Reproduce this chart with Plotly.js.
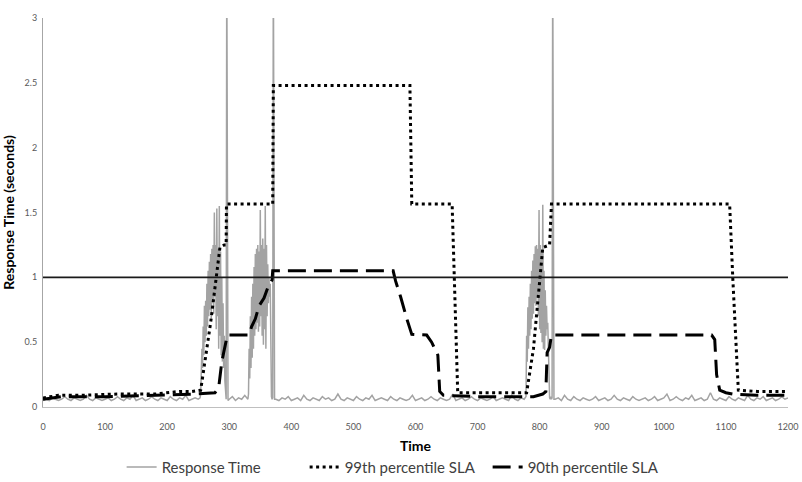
<!DOCTYPE html>
<html>
<head>
<meta charset="utf-8">
<script src="https://cdn.plot.ly/plotly-3.0.1.min.js"></script>
<style>html,body{margin:0;padding:0;background:#fff;}#chart{width:802px;height:482px;}</style>
</head>
<body>
<div id="chart"></div>
<script>
// ---- Response Time samples (seconds), per segment: start time, sampling step, values ----
const rtSegA = {start: 0, step: 5, values: [
0.05,0.06,0.05,0.07,0.06,0.05,0.06,0.08,0.06,0.05,
0.07,0.06,0.05,0.06,0.09,0.06,0.05,0.07,0.06,0.05,
0.06,0.07,0.05,0.06,0.08,0.06,0.05,0.07,0.06,0.09,
0.05,0.06,0.07,0.05,0.06,0.08,0.06,0.05,0.07,0.06,
0.05,0.08,0.06,0.05,0.07,0.06,0.09,0.05,0.06,0.07,
0.06]};
const rtBurst1 = {start: 253, step: 1, values: [
0.07,0.10,0.30,0.45,0.30,0.62,0.40,0.78,0.50,0.82,
0.55,0.95,0.62,1.05,0.70,1.12,0.75,1.18,0.68,1.22,
0.80,1.25,0.72,1.50,0.85,1.25,0.60,1.53,0.70,1.22,
0.45,1.55,0.55,1.20,0.40,1.00,0.35,0.80,0.30,0.55,
0.20,0.08,0.06,3.5,0.07,0.05]};
const rtSegB = {start: 300, step: 5, values: [0.06,0.08,0.05,0.07,0.06,0.09,0.06]};
const rtBurst2 = {start: 331, step: 1, values: [
0.10,0.45,0.22,0.70,0.30,0.85,0.38,0.95,0.45,1.08,
0.55,1.18,0.60,1.22,0.65,1.25,0.58,1.20,0.62,1.52,
0.70,1.25,0.55,1.30,0.48,1.22,0.60,1.55,0.45,1.25,
0.70,1.10,0.80,1.00,0.85,0.95,0.30,0.08,0.06,0.07,
3.5,0.07,0.06]};
const rtSegC = {start: 375, step: 5, values: [
0.06,0.05,0.07,0.06,0.08,0.05,0.06,0.07,0.05,0.09,
0.06,0.05,0.07,0.06,0.05,0.08,0.06,0.07,0.05,0.06,
0.10,0.06,0.05,0.07,0.06,0.05,0.08,0.06,0.05,0.07,
0.06,0.09,0.05,0.06,0.07,0.06,0.05,0.08,0.06,0.05,
0.07,0.06,0.05,0.06,0.09,0.05,0.06,0.07,0.05,0.06,
0.08,0.06,0.05,0.07,0.06,0.05,0.06,0.10,0.05,0.06,
0.07,0.05,0.06,0.08,0.06,0.05,0.07,0.06,0.05,0.06,
0.08,0.05,0.06,0.07,0.06,0.05,0.09,0.06,0.05,0.07,
0.06]};
const rtBurst3 = {start: 778, step: 1, values: [
0.08,0.55,0.35,0.77,0.45,0.85,0.55,0.95,0.60,1.05,
0.68,1.13,0.72,1.18,0.80,1.24,0.78,1.25,0.85,1.22,
0.70,1.52,0.60,1.25,0.57,1.20,0.50,1.56,0.45,1.05,
0.44,0.90,0.55,0.78,0.60,0.65,0.45,0.20,0.07,0.06,
0.08,0.06,0.07,3.5,0.07,0.06]};
const rtSegD = {start: 825, step: 5, values: [
0.06,0.07,0.05,0.09,0.06,0.05,0.08,0.06,0.05,0.07,
0.06,0.05,0.06,0.08,0.05,0.06,0.07,0.05,0.06,0.09,
0.06,0.05,0.07,0.06,0.05,0.08,0.06,0.05,0.06,0.07,
0.05,0.06,0.08,0.05,0.06,0.07,0.10,0.05,0.06,0.08,
0.06,0.05,0.07,0.06,0.09,0.05,0.06,0.07,0.05,0.06,
0.11,0.06,0.05,0.07,0.06,0.05,0.08,0.06,0.05,0.07,
0.06,0.05,0.09,0.06,0.05,0.07,0.06,0.08,0.05,0.06,
0.07,0.05,0.06,0.08,0.06,0.07]};

// ---- 99th percentile SLA ----
const sla99Time = [0, 25, 60, 120, 180, 220, 240, 254, 270, 285, 292, 295, 295.5, 370, 371, 591, 594, 659, 668, 700, 779, 790, 805, 816, 819, 1106, 1111, 1120, 1150, 1200];
const sla99Val  = [0.07, 0.09, 0.09, 0.10, 0.10, 0.12, 0.12, 0.13, 0.65, 1.23, 1.25, 1.25, 1.565, 1.565, 2.48, 2.48, 1.565, 1.565, 0.11, 0.11, 0.11, 0.45, 1.23, 1.25, 1.565, 1.565, 1.0, 0.13, 0.12, 0.12];

// ---- 90th percentile SLA ----
const sla90Time = [0, 30, 100, 200, 245, 277, 283, 288, 292, 296, 297, 332, 336, 342, 348, 356, 362, 366, 369, 370, 564, 568, 576, 586, 594, 618, 626, 636, 639, 645, 700, 790, 805, 810, 811, 812, 816, 819, 1077, 1082, 1085, 1090, 1100, 1111, 1150, 1200];
const sla90Val  = [0.06, 0.08, 0.08, 0.09, 0.10, 0.11, 0.15, 0.35, 0.45, 0.52, 0.555, 0.555, 0.62, 0.68, 0.78, 0.84, 0.92, 0.95, 0.98, 1.05, 1.05, 0.97, 0.85, 0.68, 0.56, 0.555, 0.50, 0.40, 0.12, 0.09, 0.08, 0.08, 0.10, 0.12, 0.30, 0.42, 0.46, 0.555, 0.555, 0.52, 0.25, 0.13, 0.11, 0.10, 0.09, 0.09];

// ---- SLA threshold ----
const slaThreshold = 1;

// ---- axes ----
const xTickVals = [0,100,200,300,400,500,600,700,800,900,1000,1100,1200];
const yTickVals = [0,0.5,1,1.5,2,2.5,3];
const yTickText = ['0','0.5','1','1.5','2','2.5','3'];

const rtSegments = [rtSegA, rtBurst1, rtSegB, rtBurst2, rtSegC, rtBurst3, rtSegD];
const rtTime = [], rtVal = [];
rtSegments.forEach(s => s.values.forEach((v, i) => { rtTime.push(s.start + i * s.step); rtVal.push(v); }));

const FONT = 'Lato, "Open Sans", sans-serif';

const traces = [
  {x: rtTime, y: rtVal, type: 'scatter', mode: 'lines', name: 'Response Time',
   line: {color: '#a3a3a3', width: 1.5}},
  {x: sla99Time, y: sla99Val, type: 'scatter', mode: 'lines', name: '99th percentile SLA',
   line: {color: '#000000', width: 3, dash: '3px,3.5px'}},
  {x: sla90Time, y: sla90Val, type: 'scatter', mode: 'lines', name: '90th percentile SLA',
   line: {color: '#000000', width: 3, dash: '18px,8px'}}
];

const layout = {
  width: 802, height: 482,
  margin: {l: 43, r: 14, t: 18, b: 75, autoexpand: false},
  paper_bgcolor: '#ffffff', plot_bgcolor: '#ffffff',
  font: {family: FONT, color: '#595959'},
  showlegend: true,
  legend: {orientation: 'h', x: 0.474, xanchor: 'center', y: -0.155, yanchor: 'middle',
           entrywidth: 138, entrywidthmode: 'pixels',
           font: {family: FONT, size: 15, color: '#404040'}, traceorder: 'normal'},
  xaxis: {range: [0, 1200], tickvals: xTickVals, ticktext: xTickVals.map(String),
          showgrid: false, zeroline: false, showline: true, linecolor: '#bfbfbf', linewidth: 1,
          ticks: '', ticklabelstandoff: 11, tickfont: {size: 9, color: '#595959'},
          title: {text: '<b>Time</b>', font: {size: 14, color: '#000'}, standoff: 10}, automargin: false},
  yaxis: {range: [0, 3], tickvals: yTickVals, ticktext: yTickText,
          showgrid: false, zeroline: false, showline: true, linecolor: '#a6a6a6', linewidth: 1,
          ticks: '', ticklabelstandoff: 3, tickfont: {size: 9, color: '#595959'},
          title: {text: '<b>Response Time (seconds)</b>', font: {size: 14, color: '#000'}, standoff: 8}, automargin: false},
  shapes: [{type: 'line', xref: 'paper', x0: 0, x1: 1, yref: 'y', y0: slaThreshold, y1: slaThreshold,
            line: {color: '#1a1a1a', width: 1.6}}]
};

Plotly.newPlot('chart', traces, layout, {displayModeBar: false, staticPlot: true});
</script>
</body>
</html>
